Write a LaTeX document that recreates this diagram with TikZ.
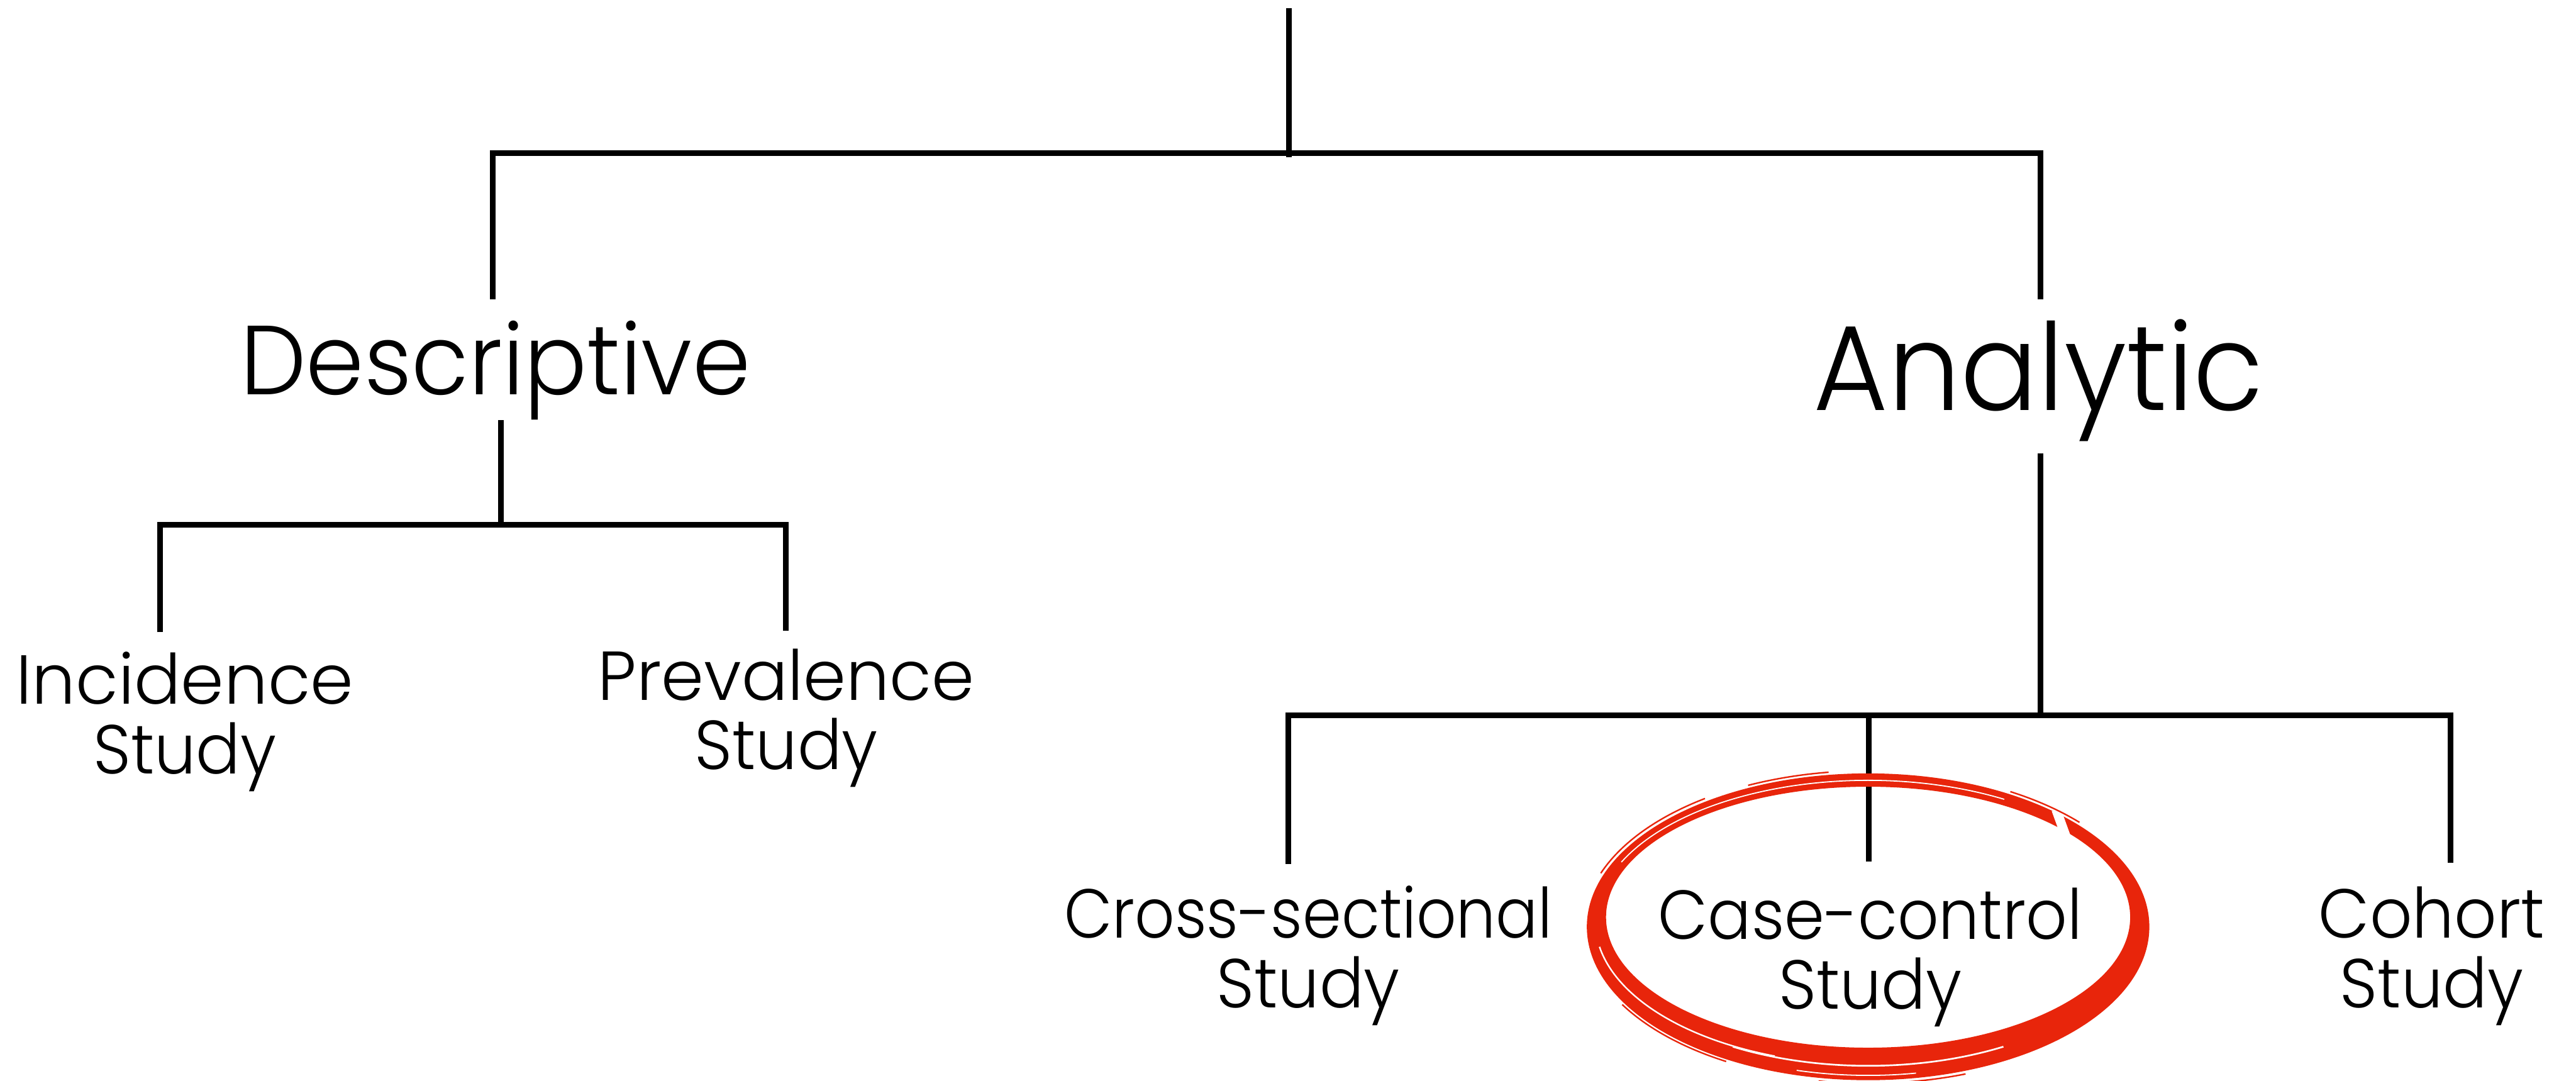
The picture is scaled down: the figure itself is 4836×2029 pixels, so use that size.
\documentclass[tikz,border=0pt]{standalone}
\usepackage{graphicx}
\usepackage{fontspec}
\setmainfont{Poppins Light}
\definecolor{brush}{HTML}{E8250B}
% horizontal squeeze of one line of text
\newcommand\squeezed[2]{\scalebox{#1}[1]{#2}}
\begin{document}
\begin{tikzpicture}[x=0.01cm,y=-0.01cm,
  link/.style={line width=3pt, black, line join=miter},
  leaf/.style={font=\fontsize{37}{37.2}\selectfont, align=center, anchor=base, inner sep=0pt},
  branch/.style={font=\fontsize{52.4}{52.4}\selectfont, anchor=base, inner sep=0pt},
  bigbranch/.style={font=\fontsize{64.6}{64.6}\selectfont, anchor=base, inner sep=0pt},
  streak/.style={white, line width=#1},
  streak/.default=1pt,
  fray/.style={brush, line width=#1},
  fray/.default=0.8pt]
\useasboundingbox (0,0) rectangle (4836,2029);

% labels (base anchor = baseline of the last line)
\node[branch]    (desc)  at (930,741)   {\squeezed{0.95}{Descriptive}};
\node[bigbranch] (anal)  at (3827,770)  {\squeezed{0.947}{Analytic}};
\node[leaf]      (inc)   at (347,1453)  {Incidence\\\squeezed{0.95}{Study}};
\node[leaf]      (prev)  at (1476,1445) {\squeezed{0.99}{Prevalence}\\\squeezed{0.95}{Study}};
\node[leaf]      (cross) at (2456,1892) {\squeezed{0.90}{Cross-sectional}\\\squeezed{0.95}{Study}};
\node[leaf]      (case)  at (3511,1894) {\squeezed{0.93}{Case-control}\\\squeezed{0.95}{Study}};
\node[leaf]      (coh)   at (4565,1892) {\squeezed{0.957}{Cohort}\\\squeezed{0.95}{Study}};

% junction points
\coordinate (root)   at (2420,15);
\coordinate (rootj)  at (2420,295);
\coordinate (descT)  at (925,562);
\coordinate (analT)  at (3831,562);
\coordinate (descB)  at (940,789);
\coordinate (descJ)  at (940,985);
\coordinate (incT)   at (300,1187);
\coordinate (prevT)  at (1475,1184);
\coordinate (analB)  at (3831,851);
\coordinate (analJ)  at (3831,1343);
\coordinate (crossT) at (2419,1622);
\coordinate (caseT)  at (3508,1618);
\coordinate (cohT)   at (4600,1620);

% tree connectors
\draw[link] (root) -- (rootj);
\draw[link] (descT) |- (2420,287) -| (analT);
\draw[link] (descB) -- (descJ);
\draw[link] (incT) |- (descJ) -| (prevT);
\draw[link] (analB) -- (analJ);
\draw[link] (crossT) |- (analJ) -| (cohT);
\draw[link] (caseT) -- (caseT |- analJ);

% brush-stroke ring around the case-control label
\fill[brush, even odd rule]
  (3507,1740) ellipse [x radius=528, y radius=288]
  (3507,1722) ellipse [x radius=492, y radius=245];

% dry-brush streaks inside the ring
\foreach \dy/\ra/\rb/\s/\e/\w in {
    1731/511/266/205/300/0.6pt,
    1731/512/268/110/170/0.8pt,
    1733/508/268/60/120/0.9pt,
    1740/518/279/80/105/0.6pt}
  \draw[streak=\w] (3507,\dy) ++({\ra*cos(\s)},{\rb*sin(\s)})
     arc [start angle=\s, end angle=\e, x radius=\ra, y radius=\rb];

% break in the stroke at the upper right
\draw[white, line width=5pt] (3860,1520) -- (3880,1575);

% frayed edges just outside the ring
\foreach \ra/\rb/\s/\e in {
    534/294/200/235,
    533/293/245/262,
    533/292/120/150,
    535/294/70/100,
    534/293/300/318}
  \draw[fray] (3507,1740) ++({\ra*cos(\s)},{\rb*sin(\s)})
     arc [start angle=\s, end angle=\e, x radius=\ra, y radius=\rb];
\end{tikzpicture}
\end{document}
